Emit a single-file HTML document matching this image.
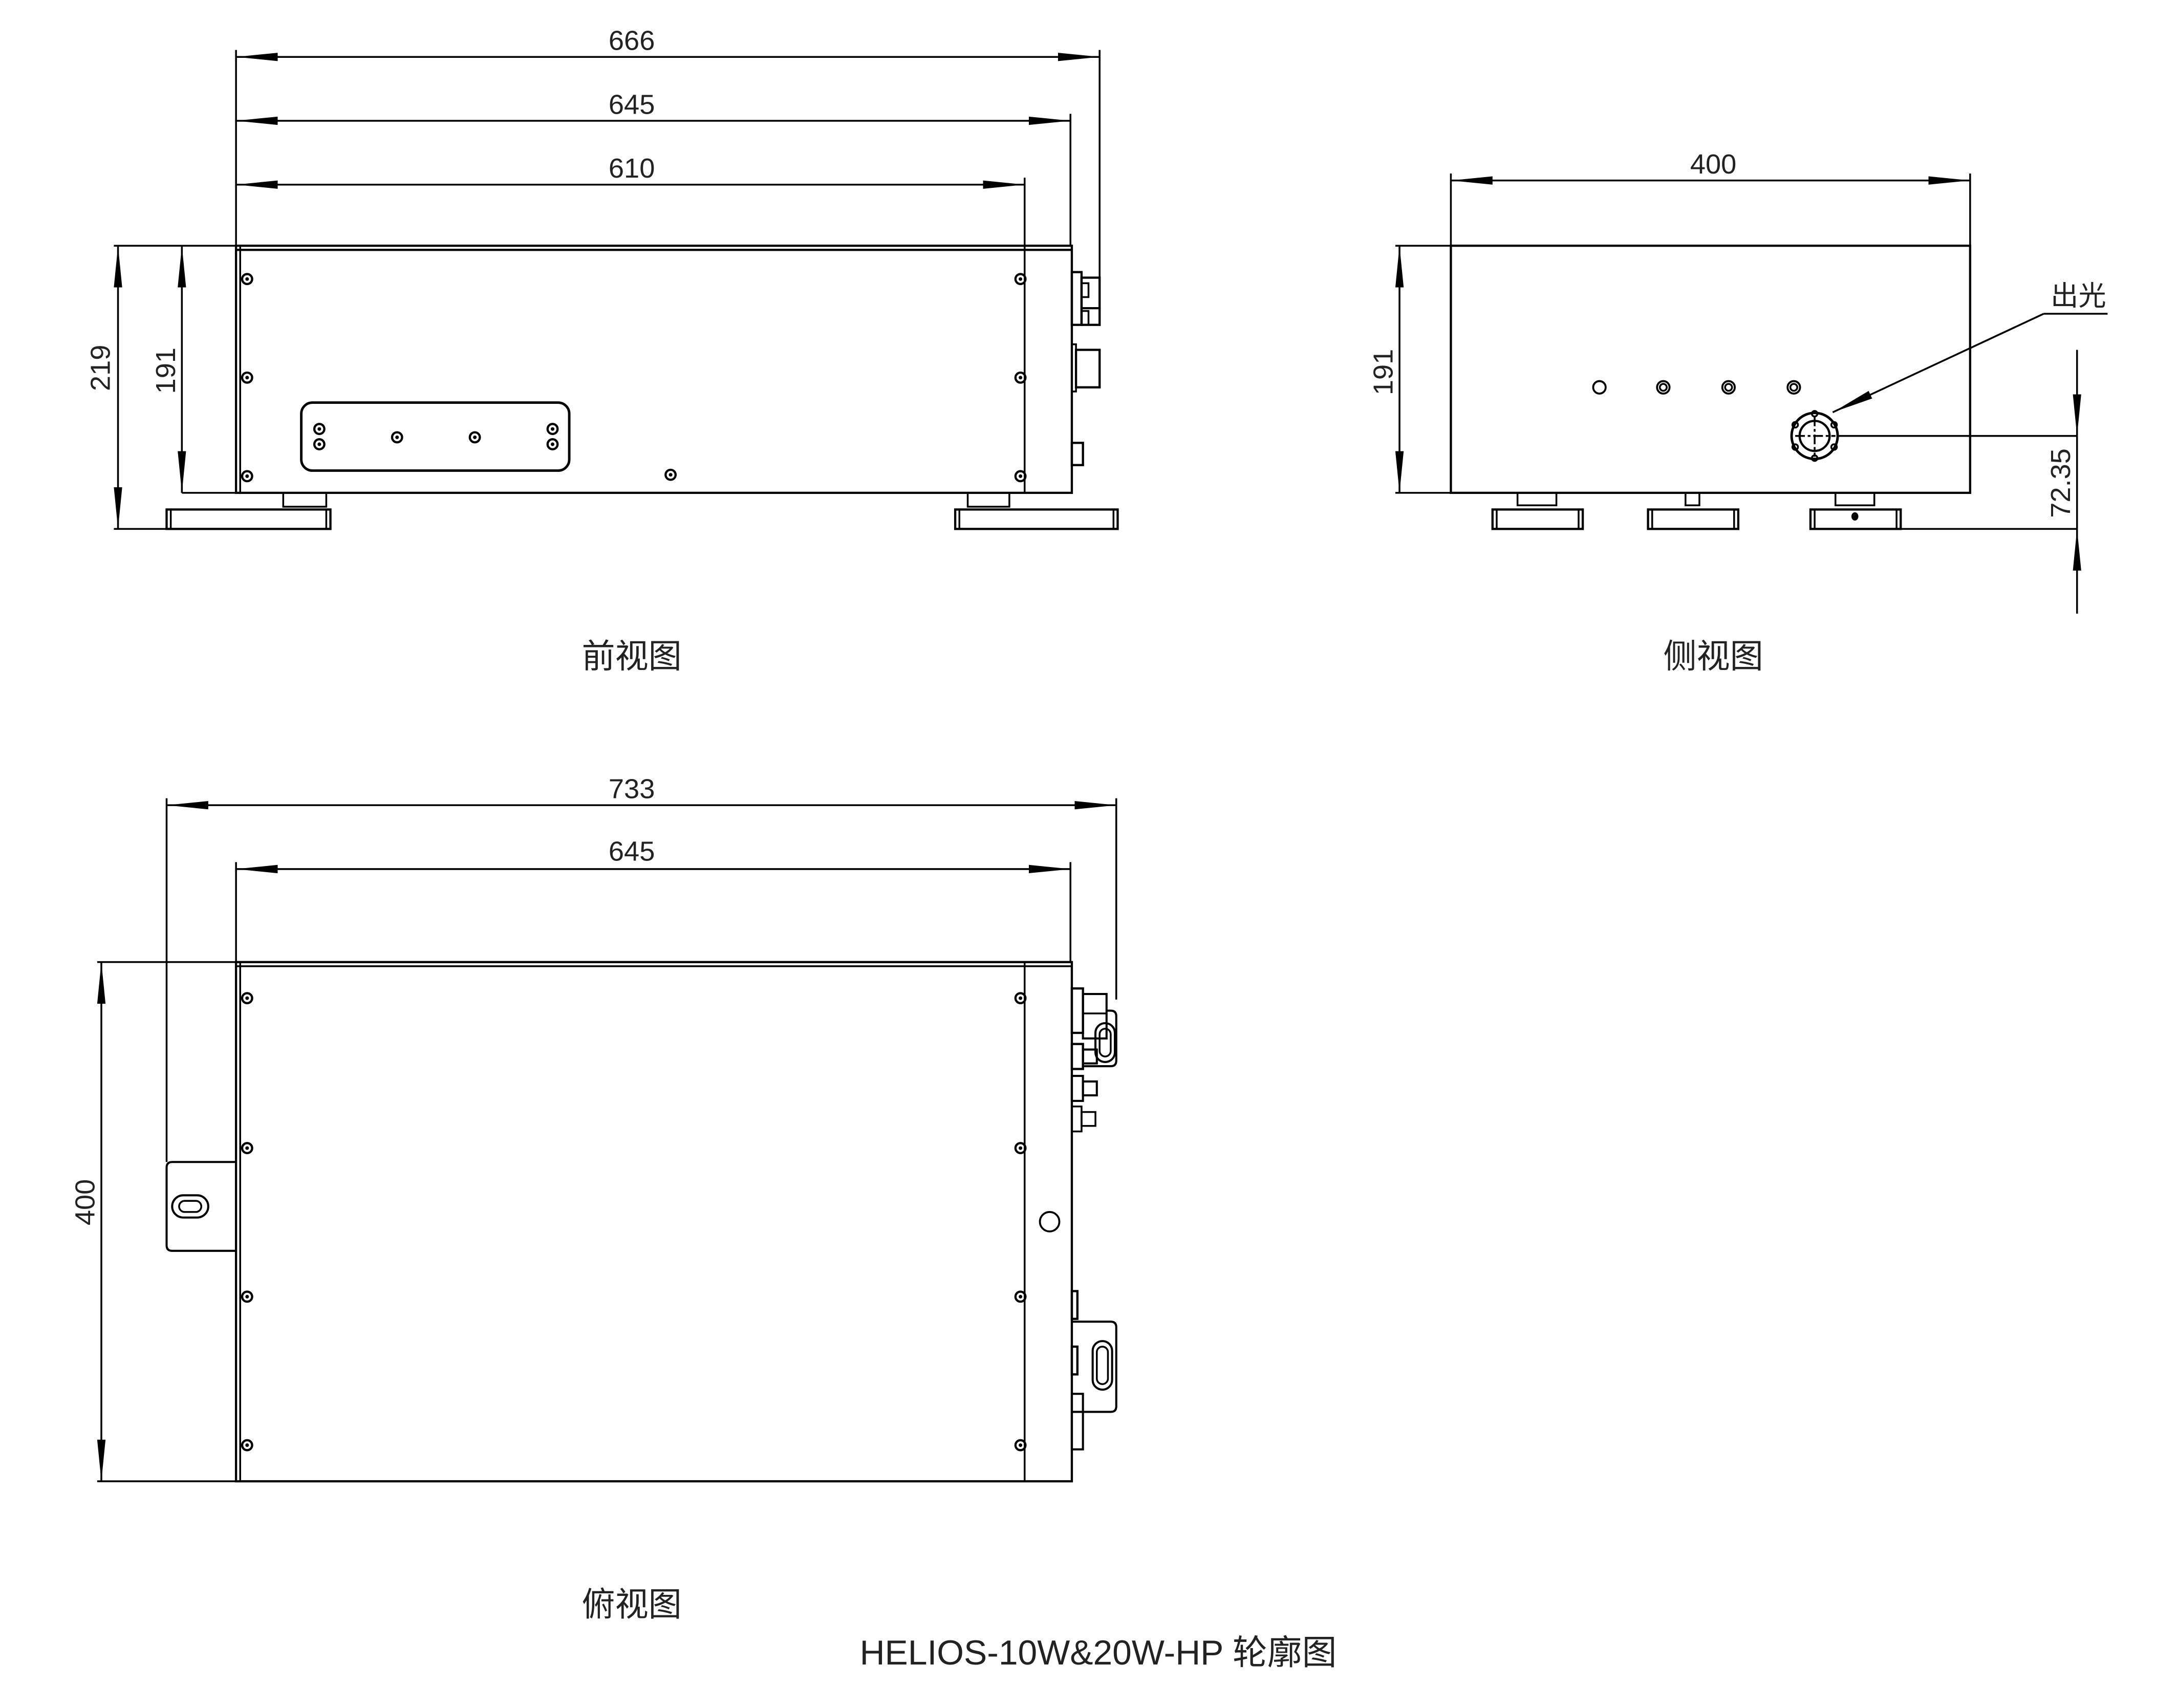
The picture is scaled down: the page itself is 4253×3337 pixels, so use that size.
<!DOCTYPE html>
<html><head><meta charset="utf-8"><style>
html,body{margin:0;padding:0;background:#fff}
svg{display:block}
text{font-family:"Liberation Sans","Noto Sans CJK SC",sans-serif;fill:#222}
</style></head><body>
<svg width="4253" height="3337" viewBox="0 0 1568 1230.3" preserveAspectRatio="none" xmlns="http://www.w3.org/2000/svg">
<defs>
<marker id="a" viewBox="0 0 30 8" refX="30" refY="4" markerWidth="30" markerHeight="8" markerUnits="userSpaceOnUse" orient="auto-start-reverse"><path d="M0,1 L30,4 L0,7 Z" fill="#000"/></marker>
<g id="sc"><circle r="3.6" fill="none" stroke="#000" stroke-width="1.6"/><circle r="1.3" fill="#000"/></g>
</defs>
<g fill="none" stroke="#000" stroke-width="1.3">
<!-- FRONT VIEW -->
<line x1="170" y1="41" x2="792" y2="41" marker-start="url(#a)" marker-end="url(#a)"/>
<line x1="170" y1="87" x2="771" y2="87" marker-start="url(#a)" marker-end="url(#a)"/>
<line x1="170" y1="133" x2="738" y2="133" marker-start="url(#a)" marker-end="url(#a)"/>
<line x1="170" y1="36" x2="170" y2="177"/>
<line x1="792" y1="36" x2="792" y2="200"/>
<line x1="771" y1="82" x2="771" y2="177"/>
<line x1="738" y1="128" x2="738" y2="177"/>
<rect x="170" y="177" width="602" height="178" stroke-width="1.6"/>
<line x1="170" y1="180" x2="772" y2="180" stroke-width="1.6"/>
<line x1="173" y1="177" x2="173" y2="355"/>
<line x1="738" y1="177" x2="738" y2="355"/>
<line x1="85" y1="177" x2="85" y2="381" marker-start="url(#a)" marker-end="url(#a)"/>
<line x1="131" y1="177" x2="131" y2="355" marker-start="url(#a)" marker-end="url(#a)"/>
<line x1="82" y1="177" x2="170" y2="177"/>
<line x1="82" y1="381" x2="120" y2="381"/>
<line x1="131" y1="355" x2="170" y2="355"/>
<rect x="217" y="290" width="193" height="49" rx="8" stroke-width="1.8"/>
<rect x="204" y="355" width="31" height="10"/>
<rect x="120" y="367" width="118" height="14" stroke-width="1.6"/>
<line x1="123" y1="367" x2="123" y2="381"/><line x1="235" y1="367" x2="235" y2="381"/>
<rect x="697" y="355" width="30" height="10"/>
<rect x="688" y="367" width="117" height="14" stroke-width="1.6"/>
<line x1="691" y1="367" x2="691" y2="381"/><line x1="802" y1="367" x2="802" y2="381"/>
<rect x="772" y="196" width="7" height="38" stroke-width="1.6"/>
<rect x="779" y="200" width="13" height="34" stroke-width="1.6"/>
<line x1="779" y1="222" x2="792" y2="222" stroke-width="1.6"/>
<rect x="779" y="204" width="5" height="10"/><rect x="779" y="224" width="5" height="10"/>
<rect x="772" y="248" width="3" height="34"/>
<rect x="775" y="252" width="17" height="27" stroke-width="1.6"/>
<rect x="772" y="319" width="8" height="16" stroke-width="1.6"/>

<!-- SIDE VIEW -->
<line x1="1045" y1="130" x2="1419" y2="130" marker-start="url(#a)" marker-end="url(#a)"/>
<line x1="1045" y1="125" x2="1045" y2="177"/>
<line x1="1419" y1="125" x2="1419" y2="177"/>
<rect x="1045" y="177" width="374" height="178" stroke-width="1.6"/>
<line x1="1008" y1="177" x2="1008" y2="355" marker-start="url(#a)" marker-end="url(#a)"/>
<line x1="1005" y1="177" x2="1045" y2="177"/>
<line x1="1005" y1="355" x2="1045" y2="355"/>
<circle cx="1152" cy="279" r="4.5" stroke-width="1.4"/>
<circle cx="1198" cy="279" r="4.5" stroke-width="1.4"/><circle cx="1198" cy="279" r="2.5"/>
<circle cx="1245" cy="279" r="4.5" stroke-width="1.4"/><circle cx="1245" cy="279" r="2.5"/>
<circle cx="1292" cy="279" r="4.5" stroke-width="1.4"/><circle cx="1292" cy="279" r="2.5"/>
<circle cx="1307" cy="314" r="16.6" stroke-width="1.8"/>
<circle cx="1307" cy="314" r="10.8" stroke-width="1.6"/>
<line x1="1293" y1="314" x2="1322" y2="314" stroke-dasharray="7,2,2,2"/>
<line x1="1307" y1="300" x2="1307" y2="329" stroke-dasharray="7,2,2,2"/>
<circle cx="1307" cy="298" r="2"/><circle cx="1307" cy="330" r="2"/>
<circle cx="1293" cy="306" r="2"/><circle cx="1321" cy="306" r="2"/>
<circle cx="1293" cy="322" r="2"/><circle cx="1321" cy="322" r="2"/>
<line x1="1472" y1="226" x2="1320" y2="297" marker-end="url(#a)"/>
<line x1="1472" y1="226" x2="1518" y2="226"/>
<line x1="1323" y1="314" x2="1496" y2="314"/>
<line x1="1496" y1="252" x2="1496" y2="314" marker-end="url(#a)"/>
<line x1="1496" y1="442" x2="1496" y2="381" marker-end="url(#a)"/>
<line x1="1496" y1="314" x2="1496" y2="381"/>
<line x1="1369" y1="381" x2="1496" y2="381"/>
<rect x="1093" y="355" width="28" height="9"/>
<rect x="1214" y="355" width="10" height="9"/>
<rect x="1322" y="355" width="28" height="9"/>
<rect x="1075" y="367" width="65" height="14" stroke-width="1.6"/>
<line x1="1078" y1="367" x2="1078" y2="381"/><line x1="1137" y1="367" x2="1137" y2="381"/>
<rect x="1187" y="367" width="65" height="14" stroke-width="1.6"/>
<line x1="1190" y1="367" x2="1190" y2="381"/><line x1="1249" y1="367" x2="1249" y2="381"/>
<rect x="1304" y="367" width="65" height="14" stroke-width="1.6"/>
<line x1="1307" y1="367" x2="1307" y2="381"/><line x1="1366" y1="367" x2="1366" y2="381"/>

<!-- TOP VIEW -->
<line x1="120" y1="580" x2="804" y2="580" marker-start="url(#a)" marker-end="url(#a)"/>
<line x1="170" y1="626" x2="771" y2="626" marker-start="url(#a)" marker-end="url(#a)"/>
<line x1="120" y1="575" x2="120" y2="837"/>
<line x1="804" y1="575" x2="804" y2="720"/>
<line x1="170" y1="621" x2="170" y2="693"/>
<line x1="771" y1="621" x2="771" y2="693"/>
<rect x="170" y="693" width="602" height="374" stroke-width="1.6"/>
<line x1="170" y1="696" x2="772" y2="696"/>
<line x1="173" y1="693" x2="173" y2="1067"/>
<line x1="738" y1="693" x2="738" y2="1067"/>
<line x1="73" y1="693" x2="73" y2="1067" marker-start="url(#a)" marker-end="url(#a)"/>
<line x1="70" y1="693" x2="170" y2="693"/>
<line x1="70" y1="1067" x2="170" y2="1067"/>
<path d="M170,837 H124 Q120,837 120,841 V897 Q120,901 124,901 H170" stroke-width="1.5"/>
<rect x="124" y="861" width="26" height="16" rx="8" stroke-width="1.5"/>
<rect x="129" y="865" width="16" height="8" rx="4" stroke-width="1.3"/>
<circle cx="756" cy="880" r="7" stroke-width="1.4"/>
<rect x="772" y="712" width="8" height="32" stroke-width="1.6"/>
<rect x="780" y="716" width="17" height="32" stroke-width="1.5"/>
<line x1="780" y1="730" x2="797" y2="730"/>
<path d="M797,728 H800 Q804,728 804,732 V764 Q804,768 800,768 H780" stroke-width="1.5"/>
<rect x="789" y="737" width="14" height="28" rx="7" stroke-width="1.5"/>
<rect x="792" y="741" width="8" height="20" rx="4"/>
<rect x="772" y="752" width="8" height="18" stroke-width="1.6"/>
<rect x="780" y="756" width="10" height="10" stroke-width="1.5"/>
<rect x="772" y="775" width="8" height="18" stroke-width="1.5"/>
<rect x="780" y="779" width="10" height="10" stroke-width="1.5"/>
<rect x="772" y="797" width="7" height="18"/>
<rect x="779" y="801" width="10" height="10"/>
<rect x="772" y="930" width="4" height="20" stroke-width="1.6"/>
<path d="M772,952 H800 Q804,952 804,956 V1013 Q804,1017 800,1017 H772" stroke-width="1.5"/>
<rect x="787" y="966" width="14" height="35" rx="7" stroke-width="1.5"/>
<rect x="790" y="970" width="8" height="27" rx="4"/>
<rect x="772" y="970" width="4" height="20" stroke-width="1.6"/>
<rect x="772" y="1004" width="8" height="40" stroke-width="1.5"/>
</g>
<use href="#sc" x="178" y="201"/><use href="#sc" x="178" y="272"/><use href="#sc" x="178" y="343"/>
<use href="#sc" x="735" y="201"/><use href="#sc" x="735" y="272"/><use href="#sc" x="735" y="343"/>
<use href="#sc" x="483" y="342"/>
<use href="#sc" x="230" y="309"/><use href="#sc" x="230" y="320"/><use href="#sc" x="286" y="315"/>
<use href="#sc" x="342" y="315"/><use href="#sc" x="398" y="309"/><use href="#sc" x="398" y="320"/>
<use href="#sc" x="178" y="719"/><use href="#sc" x="178" y="827"/><use href="#sc" x="178" y="934"/><use href="#sc" x="178" y="1041"/>
<use href="#sc" x="735" y="719"/><use href="#sc" x="735" y="827"/><use href="#sc" x="735" y="934"/><use href="#sc" x="735" y="1041"/>
<ellipse cx="1336" cy="372" rx="2.5" ry="3" fill="#000"/>
<g font-size="20" text-anchor="middle">
<text x="455" y="36">666</text>
<text x="455" y="82">645</text>
<text x="455" y="128">610</text>
<text transform="translate(79,265) rotate(-90)">219</text>
<text transform="translate(126,267) rotate(-90)">191</text>
<text x="1234" y="125">400</text>
<text transform="translate(1003,268) rotate(-90)">191</text>
<text transform="translate(1491,348) rotate(-90)">72.35</text>
<text x="1497" y="220">出光</text>
<text x="455" y="575">733</text>
<text x="455" y="620">645</text>
<text transform="translate(68,866) rotate(-90)">400</text>
<text x="455" y="481" font-size="24">前视图</text>
<text x="1234" y="481" font-size="24">侧视图</text>
<text x="455" y="1164" font-size="24">俯视图</text>
<text x="791" y="1199" font-size="25">HELIOS-10W&amp;20W-HP 轮廓图</text>
</g>
</svg>
</body></html>
